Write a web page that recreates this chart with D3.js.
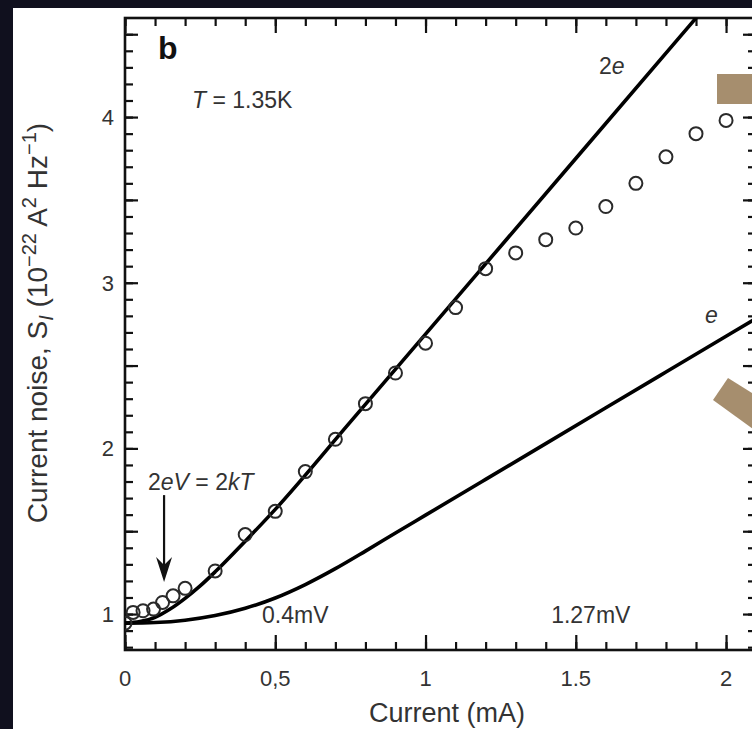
<!DOCTYPE html>
<html>
<head>
<meta charset="utf-8">
<script src="https://cdn.jsdelivr.net/npm/d3@7"></script>
<style>
  html, body { margin: 0; padding: 0; background: #10101e; }
  svg { display: block; font-family: "Liberation Sans", Arial, sans-serif; }
</style>
</head>
<body>
<div id="chart"></div>
<script>
// measured noise points (open circles)
const currentMA = [0, 0.027, 0.06, 0.095, 0.125, 0.16, 0.2, 0.3, 0.4, 0.5, 0.6, 0.7, 0.8, 0.9,
  1.0, 1.1, 1.2, 1.3, 1.4, 1.5, 1.6, 1.7, 1.8, 1.9, 2.0];
const noiseMeasured = [0.945, 1.01, 1.02, 1.03, 1.07, 1.11, 1.155, 1.26, 1.48, 1.62, 1.86, 2.055, 2.27, 2.455,
  2.635, 2.85, 3.085, 3.18, 3.26, 3.33, 3.46, 3.6, 3.76, 3.9, 3.98];

// theory curve for charge 2e
const curve2eCurrent = [0, 0.05, 0.1, 0.15, 0.2, 0.25, 0.3, 0.4, 0.5, 0.75, 1.0, 1.5, 1.92];
const curve2eNoise = [0.945, 0.955, 0.98, 1.03, 1.095, 1.17, 1.255, 1.44, 1.632, 2.16, 2.69, 3.75, 4.64];

// theory curve for charge e
const curveECurrent = [0, 0.1, 0.2, 0.3, 0.4, 0.5, 0.6, 0.7, 0.8, 0.9, 1.0, 1.2, 1.4, 1.6, 1.8, 2.0, 2.1];
const curveENoise = [0.945, 0.949, 0.963, 0.991, 1.035, 1.097, 1.178, 1.274, 1.38, 1.489, 1.597, 1.813, 2.029,
  2.245, 2.461, 2.677, 2.785];

const xMajorTicks = [0, 0.5, 1, 1.5, 2];
const xTickLabels = ["0", "0,5", "1", "1.5", "2"];
const yMajorTicks = [1, 1.5, 2, 2.5, 3, 3.5, 4, 4.5];
const yLabelTicks = [1, 2, 3, 4];
const yTickLabels = ["1", "2", "3", "4"];

const width = 752, height = 729;
const frameLeft = 125, frameRight = 754, frameTop = 18, frameBottom = 650;
const textColor = "#333333";
const ink = "#111111";

const svg = d3.select("#chart").append("svg")
  .attr("width", width)
  .attr("height", height);

svg.append("rect").attr("width", width).attr("height", height).attr("fill", "#10101e");
svg.append("rect").attr("x", 13).attr("y", 8).attr("width", width - 13).attr("height", height - 8).attr("fill", "#ffffff");

const x = d3.scaleLinear().domain([0, 2.093]).range([frameLeft, frameRight]);
const y = d3.scaleLinear().domain([0.783, 4.598]).range([frameBottom, frameTop]);

const xMinor = d3.range(0, 2.11, 0.1).map(v => +v.toFixed(2));
const yMinor = d3.range(0.8, 4.6, 0.1).map(v => +v.toFixed(2));

function tickAxis(axisFn, scale, values, size, translate) {
  const g = svg.append("g")
    .attr("transform", translate)
    .call(axisFn(scale).tickValues(values).tickSize(-size).tickSizeOuter(0).tickFormat(""));
  g.select(".domain").remove();
  g.selectAll("line").attr("stroke", ink).attr("stroke-width", 2.2);
  return g;
}

// ticks on all four sides, pointing inward
tickAxis(d3.axisBottom, x, xMinor, 8, `translate(0,${frameBottom})`);
tickAxis(d3.axisBottom, x, xMajorTicks, 15, `translate(0,${frameBottom})`);
tickAxis(d3.axisTop, x, xMinor, 8, `translate(0,${frameTop})`);
tickAxis(d3.axisTop, x, xMajorTicks, 15, `translate(0,${frameTop})`);
tickAxis(d3.axisLeft, y, yMinor, 8, `translate(${frameLeft},0)`);
tickAxis(d3.axisLeft, y, yMajorTicks, 13, `translate(${frameLeft},0)`);
tickAxis(d3.axisRight, y, yMinor, 6, `translate(${frameRight},0)`);
tickAxis(d3.axisRight, y, yMajorTicks, 11, `translate(${frameRight},0)`);

// frame
svg.append("rect")
  .attr("x", frameLeft).attr("y", frameTop)
  .attr("width", frameRight - frameLeft).attr("height", frameBottom - frameTop)
  .attr("fill", "none").attr("stroke", ink).attr("stroke-width", 2.6);

// tick labels
svg.append("g").selectAll("text")
  .data(xMajorTicks)
  .join("text")
  .attr("x", d => x(d))
  .attr("y", frameBottom + 36)
  .attr("text-anchor", "middle")
  .attr("font-size", 22)
  .attr("fill", textColor)
  .text((d, i) => xTickLabels[i]);

svg.append("g").selectAll("text")
  .data(yLabelTicks)
  .join("text")
  .attr("x", frameLeft - 11)
  .attr("y", d => y(d))
  .attr("dy", "0.36em")
  .attr("text-anchor", "end")
  .attr("font-size", 22)
  .attr("fill", textColor)
  .text((d, i) => yTickLabels[i]);

// axis titles
svg.append("text")
  .attr("x", 447).attr("y", 722)
  .attr("text-anchor", "middle")
  .attr("font-size", 27)
  .attr("fill", textColor)
  .text("Current (mA)");

const yTitle = svg.append("text")
  .attr("transform", "translate(47,323) rotate(-90)")
  .attr("text-anchor", "middle")
  .attr("font-size", 28)
  .attr("fill", textColor);
yTitle.append("tspan").text("Current noise, S");
yTitle.append("tspan").attr("font-style", "italic").attr("font-size", 20).attr("dy", 6).text("I");
yTitle.append("tspan").attr("dy", -6).text(" (10");
yTitle.append("tspan").attr("font-size", 20).attr("dy", -11).text("\u221222");
yTitle.append("tspan").attr("dy", 11).text(" A");
yTitle.append("tspan").attr("font-size", 20).attr("dy", -11).text("2");
yTitle.append("tspan").attr("dy", 11).text(" Hz");
yTitle.append("tspan").attr("font-size", 20).attr("dy", -11).text("\u22121");
yTitle.append("tspan").attr("dy", 11).text(")");

// curves, clipped to the frame
svg.append("clipPath").attr("id", "plot-clip")
  .append("rect")
  .attr("x", frameLeft).attr("y", frameTop)
  .attr("width", frameRight - frameLeft).attr("height", frameBottom - frameTop);

const plot = svg.append("g").attr("clip-path", "url(#plot-clip)");

const line = d3.line()
  .x(d => x(d[0]))
  .y(d => y(d[1]))
  .curve(d3.curveMonotoneX);

plot.append("path")
  .datum(curve2eCurrent.map((c, i) => [c, curve2eNoise[i]]))
  .attr("d", line)
  .attr("fill", "none")
  .attr("stroke", "#000")
  .attr("stroke-width", 3.6);

plot.append("path")
  .datum(curveECurrent.map((c, i) => [c, curveENoise[i]]))
  .attr("d", line)
  .attr("fill", "none")
  .attr("stroke", "#000")
  .attr("stroke-width", 3.6);

plot.selectAll("circle")
  .data(currentMA.map((c, i) => [c, noiseMeasured[i]]))
  .join("circle")
  .attr("cx", d => x(d[0]))
  .attr("cy", d => y(d[1]))
  .attr("r", 6.5)
  .attr("fill", "none")
  .attr("stroke", "#2a2a2a")
  .attr("stroke-width", 2);

// annotations
function label(xv, yv, parts, size, weight) {
  const t = svg.append("text")
    .attr("x", x(xv)).attr("y", y(yv))
    .attr("font-size", size)
    .attr("font-weight", weight || "normal")
    .attr("fill", textColor);
  parts.forEach(p => {
    t.append("tspan").attr("font-style", p[1] ? "italic" : "normal").text(p[0]);
  });
  return t;
}

label(0.11, 4.35, [["b", false]], 32, "bold").attr("fill", "#111");
label(0.223, 4.054, [["T", true], [" = 1.35K", false]], 23);
label(1.577, 4.26, [["2", false], ["e", true]], 23);
label(1.93, 2.757, [["e", true]], 23);
label(0.0765, 1.75, [["2", false], ["eV", true], [" = 2", false], ["kT", true]], 23);
label(0.456, 0.946, [["0.4mV", false]], 23);
label(1.418, 0.946, [["1.27mV", false]], 23);

// arrow at the 2eV = 2kT crossover
const arrowX = x(0.13), arrowTop = y(1.718), arrowTip = y(1.193);
svg.append("line")
  .attr("x1", arrowX).attr("x2", arrowX)
  .attr("y1", arrowTop).attr("y2", arrowTip - 12)
  .attr("stroke", "#111").attr("stroke-width", 2.2);
svg.append("path")
  .attr("d", `M${arrowX},${arrowTip} L${arrowX - 8},${arrowTip - 25} L${arrowX},${arrowTip - 17} L${arrowX + 8},${arrowTip - 25} Z`)
  .attr("fill", "#111");

// tan shapes at the right edge of the page
svg.append("rect")
  .attr("x", 717).attr("y", 74).attr("width", 40).attr("height", 30)
  .attr("fill", "#a68e6e");
svg.append("polygon")
  .attr("points", "728,378 760,398 760,434 713,400")
  .attr("fill", "#a68e6e");
</script>
</body>
</html>
